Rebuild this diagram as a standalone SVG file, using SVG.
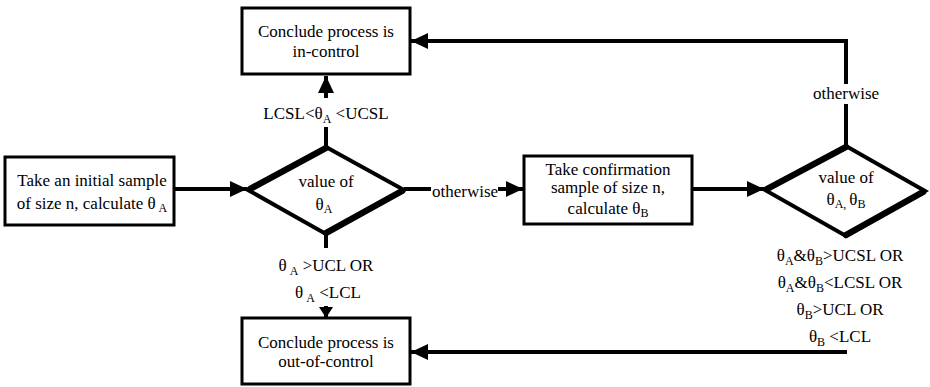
<svg xmlns="http://www.w3.org/2000/svg" width="930" height="387" viewBox="0 0 930 387" font-family="serif">
<defs>
<marker id="ah" markerUnits="userSpaceOnUse" markerWidth="18" markerHeight="16" refX="17" refY="8" orient="auto">
<path d="M0,0 L17,8 L0,16 z" fill="#000"/>
</marker>
<marker id="ahs" markerUnits="userSpaceOnUse" markerWidth="12" markerHeight="14" refX="11" refY="7" orient="auto">
<path d="M0,0 L11,7 L0,14 z" fill="#000"/>
</marker>
</defs>
<g id="connectors" fill="none" stroke="#000" stroke-width="4">
<path d="M175,189 L247,189" marker-end="url(#ah)"/>
<path d="M404,189 L431,189"/>
<path d="M498,189 L523,189" marker-end="url(#ah)"/>
<path d="M693,189 L764,189" marker-end="url(#ah)"/>
<path d="M846,146 L846,104"/>
<path d="M846,84 L846,41 L411,41" marker-end="url(#ah)"/>
<path d="M326,147 L326,127"/>
<path d="M326,98 L326,76" marker-end="url(#ah)"/>
<path d="M326,234 L326,248"/>
<path d="M326,306 L326,318" marker-end="url(#ahs)"/>
<path d="M847,352 L411,352" marker-end="url(#ah)"/>
</g>
<g id="in-control">
<rect x="242" y="8" width="168" height="66" fill="#fff" stroke="#000" stroke-width="3"/>
<text font-family="serif" font-size="17" text-anchor="middle" x="326" y="37">Conclude process is</text>
<text font-family="serif" font-size="17" text-anchor="middle" x="326" y="57">in-control</text>
</g>
<g id="initial-sample">
<rect x="5" y="157" width="169" height="68" fill="#fff" stroke="#000" stroke-width="3"/>
<text font-family="serif" font-size="17" text-anchor="middle" x="92" y="186">Take an initial sample</text>
<text font-family="serif" font-size="17" text-anchor="middle" x="92" y="209">of size n, calculate θ<tspan font-size="12" dy="3"> A</tspan></text>
</g>
<g id="decision-a">
<polygon points="248,190 326,147 404,190 326,234" fill="#fff" stroke="#000" stroke-width="4"/>
<line x1="250" y1="189" x2="326" y2="148" stroke="#000" stroke-width="6.5" stroke-linecap="round"/>
<line x1="326" y1="233" x2="402" y2="191" stroke="#000" stroke-width="6.5" stroke-linecap="round"/>
<text font-family="serif" font-size="17" text-anchor="middle" x="326" y="187">value of</text>
<text font-family="serif" font-size="17" text-anchor="middle" x="324" y="210">θ<tspan font-size="12" dy="3">A</tspan></text>
</g>
<g id="confirmation">
<rect x="524" y="156" width="168" height="68" fill="#fff" stroke="#000" stroke-width="3"/>
<text font-family="serif" font-size="17" text-anchor="middle" x="608" y="175">Take confirmation</text>
<text font-family="serif" font-size="17" text-anchor="middle" x="608" y="193">sample of size n,</text>
<text font-family="serif" font-size="17" text-anchor="middle" x="608" y="214">calculate  θ<tspan font-size="12" dy="3">B</tspan></text>
</g>
<g id="decision-ab">
<polygon points="765,190 846,146 925,191 846,236" fill="#fff" stroke="#000" stroke-width="4"/>
<line x1="767" y1="189" x2="846" y2="147" stroke="#000" stroke-width="6.5" stroke-linecap="round"/>
<line x1="846" y1="235" x2="923" y2="192" stroke="#000" stroke-width="6.5" stroke-linecap="round"/>
<text font-family="serif" font-size="17" text-anchor="middle" x="846" y="183">value of</text>
<text font-family="serif" font-size="17" text-anchor="middle" x="846" y="205">θ<tspan font-size="12" dy="3">A, </tspan><tspan dy="-3"> θ</tspan><tspan font-size="12" dy="3">B</tspan></text>
</g>
<g id="out-of-control">
<rect x="242" y="318" width="168" height="66" fill="#fff" stroke="#000" stroke-width="3"/>
<text font-family="serif" font-size="17" text-anchor="middle" x="326" y="348">Conclude process is</text>
<text font-family="serif" font-size="17" text-anchor="middle" x="326" y="367">out-of-control</text>
</g>
<g id="labels">
<text font-family="serif" font-size="17" text-anchor="middle" x="326" y="119">LCSL&lt;θ<tspan font-size="12" dy="4">A</tspan><tspan dy="-4"> &lt;UCSL</tspan></text>
<text font-family="serif" font-size="17" text-anchor="middle" x="465" y="197">otherwise</text>
<text font-family="serif" font-size="17" text-anchor="middle" x="846" y="99">otherwise</text>
<text font-family="serif" font-size="17" text-anchor="middle" x="326" y="271">θ<tspan font-size="12" dy="4"> A</tspan><tspan dy="-4"> &gt;UCL OR</tspan></text>
<text font-family="serif" font-size="17" text-anchor="middle" x="328" y="298">θ<tspan font-size="12" dy="4"> A</tspan><tspan dy="-4"> &lt;LCL</tspan></text>
<text font-family="serif" font-size="17" text-anchor="middle" x="840" y="261">θ<tspan font-size="12" dy="4">A</tspan><tspan dy="-4">&amp;θ</tspan><tspan font-size="12" dy="4">B</tspan><tspan dy="-4">&gt;UCSL OR</tspan></text>
<text font-family="serif" font-size="17" text-anchor="middle" x="840" y="288">θ<tspan font-size="12" dy="4">A</tspan><tspan dy="-4">&amp;θ</tspan><tspan font-size="12" dy="4">B</tspan><tspan dy="-4">&lt;LCSL OR</tspan></text>
<text font-family="serif" font-size="17" text-anchor="middle" x="840" y="315">θ<tspan font-size="12" dy="4">B</tspan><tspan dy="-4">&gt;UCL OR</tspan></text>
<text font-family="serif" font-size="17" text-anchor="middle" x="840" y="342">θ<tspan font-size="12" dy="4">B</tspan><tspan dy="-4"> &lt;LCL</tspan></text>
</g>
</svg>
